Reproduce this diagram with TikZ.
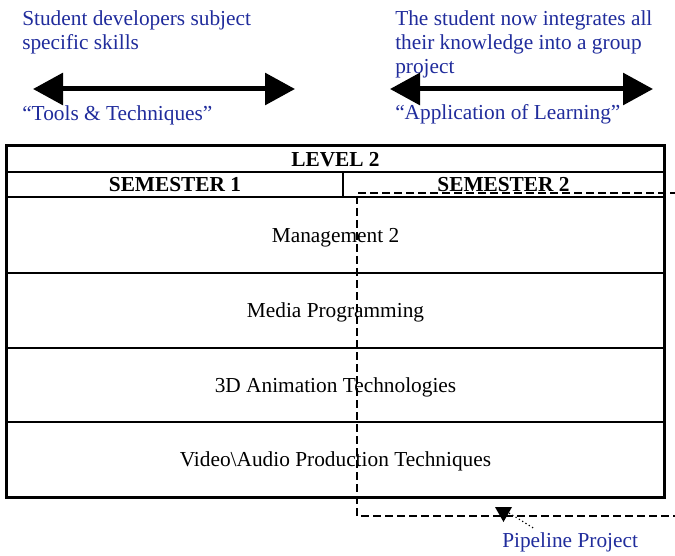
\documentclass[tikz,border=0pt]{standalone}
\usepackage{fontspec}
\setmainfont{Liberation Serif}
\usepackage{xcolor}
\usetikzlibrary{
    arrows.meta,
    positioning
}
\definecolor{noteblue}{RGB}{32,44,156}

\begin{document}
\begin{tikzpicture}[
        x=0.75pt, y=-0.75pt,
        every node/.style={font=\fontsize{16}{18}\selectfont},
        note/.style={
            anchor=north west,
            inner sep=0pt,
            align=left,
            text=noteblue
        },
        cell/.style 2 args={
            draw,
            line width=0.9pt,
            inner sep=0pt,
            text depth=0pt,
            minimum width=#1*0.75pt,
            minimum height=#2*0.75pt
        },
        head/.style={font=\fontsize{16}{18}\selectfont\bfseries},
        frame/.style={line width=1.5pt},
        spread/.style={
            {Triangle[length=22.5pt, width=23.5pt]}-{Triangle[length=22.5pt, width=23.5pt]},
            line width=3.75pt
        },
        pipeline/.style={
            line width=1.4pt,
            dash pattern=on 6pt off 3pt
        }
    ]

    \useasboundingbox (0,0) rectangle (675,556);

    % notes above the table
    \node[note] (skills) at (22,10)
        {Student developers subject\\specific skills};
    \node[note, anchor=base west] (tools) at (22,121)
        {“Tools \& Techniques”};
    \node[note] (integrate) at (395,10)
        {The student now integrates all\\their knowledge into a group\\project};
    \node[note, anchor=base west] (apply) at (395,120)
        {“Application of Learning”};

    \coordinate (toolsL) at (33,89);
    \coordinate (toolsR) at (295,89);
    \coordinate (applyL) at (390,89);
    \coordinate (applyR) at (653,89);

    \draw[spread] (toolsL) -- (toolsR);
    \draw[spread] (applyL) -- (applyR);

    % the table
    \node[cell={657}{26}, head] (level) at (335.5,159) {LEVEL 2};
    \node[cell={336}{25}, head] (sem1) at (175,184.5) {SEMESTER 1};
    \node[cell={321}{25}, head] (sem2) at (503.5,184.5) {SEMESTER 2};
    \node[cell={657}{76}] (mgmt) at (335.5,235) {Management 2};
    \node[cell={657}{75}] (media) at (335.5,310.5) {Media Programming};
    \node[cell={657}{74}] (anim) at (335.5,385) {3D Animation Technologies};
    \node[cell={657}{75}] (video) at (335.5,459.5) {Video\textbackslash Audio Production Techniques};

    \draw[frame] (level.north west) rectangle (video.south east);

    % pipeline project
    \draw[pipeline] (690,193) -- (357,193) -- (357,516) -- (690,516);
    \fill (495,507) -- (512,507) -- (503.5,522) -- cycle;

    \coordinate (pin) at (509,513);
    \coordinate (pipetip) at (535,529);
    \node[note, anchor=base west] (pipelabel) at (502,547) {Pipeline Project};

    \draw[dotted, line width=0.9pt] (pin) -- (pipetip);

\end{tikzpicture}
\end{document}
